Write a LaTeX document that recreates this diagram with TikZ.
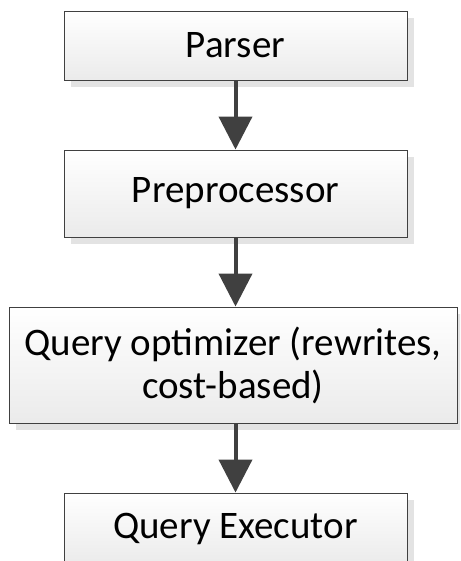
\documentclass[tikz,border=0pt]{standalone}
\usepackage{fontspec}
\setmainfont{Carlito}
\usetikzlibrary{arrows.meta,shadows}
\definecolor{edgegray}{HTML}{404040}
\definecolor{shadowgray}{HTML}{E3E3E3}
\tikzset{
  procbox/.style={draw=edgegray, line width=0.9pt, top color=white, bottom color=black!8,
    align=center, font=\fontsize{39}{43}\selectfont, inner sep=0pt,
    drop shadow={shadow xshift=7pt, shadow yshift=-7pt, fill=shadowgray, opacity=1}},
  flow/.style={draw=edgegray, line width=4pt, -{Triangle[length=33pt,width=33pt]}}
}
\begin{document}
\begin{tikzpicture}[x=1pt,y=1pt]
\useasboundingbox (0,0) rectangle (460,561);
\clip (0,0) rectangle (460,561);
\node[procbox, minimum width=343pt, minimum height=69pt] (parser) at (235.5,515.5) {Parser};
\node[procbox, minimum width=343pt, minimum height=87pt] (pre) at (235.5,367.5) {Preprocessor};
\node[procbox, minimum width=448pt, minimum height=116pt] (opt) at (233,196) {Query optimizer (rewrites,\\cost-based)};
\node[procbox, minimum width=343pt, minimum height=72pt] (exec) at (235.5,32) {Query Executor};
\draw[flow] (parser.south) -- (pre.north);
\draw[flow] (pre.south) -- (opt.north -| pre.south);
\draw[flow] (opt.south -| exec.north) -- (exec.north);
\end{tikzpicture}
\end{document}
